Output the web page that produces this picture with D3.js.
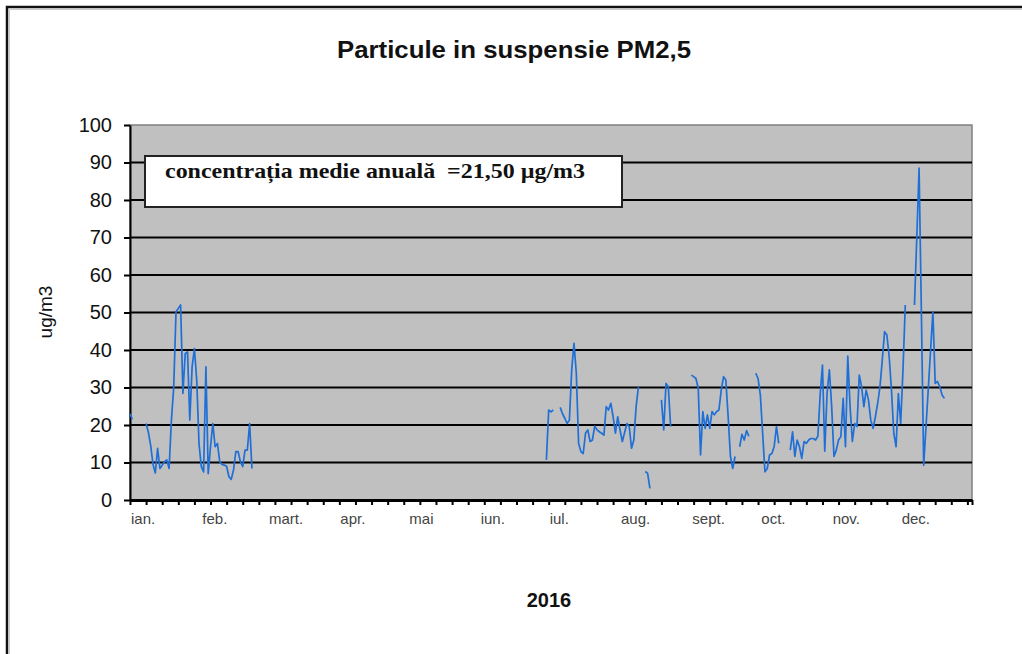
<!DOCTYPE html>
<html>
<head>
<meta charset="utf-8">
<script src="https://cdn.jsdelivr.net/npm/d3@7"></script>
<style>
body { margin: 0; background: #fff; }
svg { display: block; font-family: "Liberation Sans", Arial, sans-serif; }
</style>
</head>
<body>
<div id="chart"></div>
<script>
// chart values
var yTicks = [0, 10, 20, 30, 40, 50, 60, 70, 80, 90, 100];
var monthNames = ["ian.", "feb.", "mart.", "apr.", "mai", "iun.", "iul.", "aug.", "sept.", "oct.", "nov.", "dec."];

// daily values come in pieces, gaps = no measurement
var segStarts = ["2016-01-01", "2016-01-08", "2016-06-30", "2016-07-06", "2016-08-12",
                 "2016-08-19", "2016-09-01", "2016-09-22", "2016-09-29", "2016-10-14", "2016-12-07"];
var segValues = [
  [23, 21.5],
  [20.4, 18, 14.5, 9.5, 7.2, 13.8, 8.4, 9.3, 10.2, 10.7, 8.4, 21.3, 30, 50.2, 51.1, 52, 28.4, 39, 39.5, 21.3,
   35.5, 40.4, 32, 15, 8.9, 7.5, 35.5, 7, 14.2, 20.4, 14.2, 15.1, 10.2, 9.5, 9.3, 9.0, 6.2, 5.5, 8, 12.9,
   12.9, 10.2, 8.9, 13.3, 13.3, 20.4, 8.4],
  [10.7, 24, 23.5, 24],
  [24.7, 23, 21.8, 20.4, 21.3, 34.7, 41.8, 33.8, 15.1, 12.9, 12.4, 17.8, 18.7, 15.6, 16, 19.7, 18.7, 18.2,
   17.8, 17.3, 24.9, 24, 25.8, 22.2, 17.8, 22.2, 18.7, 15.6, 18, 20.4, 19.6, 13.8, 16, 24.9, 30.2],
  [7.6, 7.1, 3.1],
  [26.7, 18.7, 31.1, 30.2, 19.6],
  [33.3, 32.9, 32.4, 29.8, 12, 23.6, 19.1, 22.7, 19.1, 23.6, 22.7, 23.6, 24, 29.3, 32.9, 32, 22.2, 11.6, 8.4, 11.6],
  [14.2, 17.5, 16, 18.5, 17],
  [33.8, 32.4, 28, 17.8, 7.5, 8.4, 12, 12.4, 14.2, 19.6, 15.1],
  [13.3, 18.2, 11.6, 16, 14.2, 11.1, 15.6, 15.1, 16, 16.4, 16.4, 16, 17, 28, 36, 13, 28.4, 34.7, 24.9, 11.6,
   13.3, 16, 16.9, 27.1, 14.2, 38.4, 24.9, 15.6, 20.4, 19.6, 33.3, 30.2, 24.9, 29.3, 26.7, 21.3, 19.1, 22.2,
   25.8, 30.2, 37.3, 44.9, 44, 38.2, 29.3, 17.8, 14.2, 28.4, 20.4, 34.7, 52],
  [52, 70, 88.5, 50, 9.3, 19.5, 29.7, 40, 50.2, 31.1, 31.6, 30.2, 28, 27.1]
];

var svgW = 1022, svgH = 654;
var plotL = 130, plotT = 125, plotR = 972, plotB = 500;

var parseDay = d3.timeParse("%Y-%m-%d");
var yearStart = new Date(2016, 0, 1), yearEnd = new Date(2017, 0, 1);

var x = d3.scaleTime().domain([yearStart, yearEnd]).range([plotL, plotR]);
var y = d3.scaleLinear().domain([0, 100]).range([plotB, plotT]);

var svg = d3.select("#chart").append("svg").attr("width", svgW).attr("height", svgH);

// outer frame (only top and left visible)
svg.append("path").attr("d", "M7,654V7H1022").attr("fill", "none").attr("stroke", "#111").attr("stroke-width", 2.5);
svg.append("path").attr("d", "M9.5,654V9.5H1022").attr("fill", "none").attr("stroke", "#ccc").attr("stroke-width", 1);

svg.append("text").attr("x", 514).attr("y", 58).attr("text-anchor", "middle")
  .attr("font-size", 24).attr("font-weight", "bold").attr("fill", "#111")
  .attr("textLength", 354).attr("lengthAdjust", "spacingAndGlyphs")
  .text("Particule in suspensie PM2,5");

// plot background
svg.append("rect").attr("x", plotL).attr("y", plotT).attr("width", plotR - plotL).attr("height", plotB - plotT)
  .attr("fill", "#c0c0c0").attr("stroke", "#808080").attr("stroke-width", 1.5);

// gridlines
svg.append("g").selectAll("line")
  .data(yTicks.filter(d => d > 0 && d < 100))
  .enter().append("line")
  .attr("x1", plotL).attr("x2", plotR)
  .attr("y1", d => y(d)).attr("y2", d => y(d))
  .attr("stroke", "#000").attr("stroke-width", 2);

// y axis
var yAxis = svg.append("g").attr("transform", "translate(" + plotL + ",0)")
  .call(d3.axisLeft(y).tickValues(yTicks).tickSize(6).tickSizeOuter(0).tickPadding(12).tickFormat(d3.format("d")));
yAxis.select(".domain").attr("stroke", "#000").attr("stroke-width", 2);
yAxis.selectAll(".tick line").attr("stroke", "#000").attr("stroke-width", 2);
yAxis.selectAll(".tick text").attr("font-size", 20).attr("fill", "#111")
  .attr("font-family", "'Liberation Sans', Arial, sans-serif");

// x axis, weekly ticks
var xAxis = svg.append("g").attr("transform", "translate(0," + plotB + ")")
  .call(d3.axisBottom(x).tickValues(d3.timeDay.range(yearStart, yearEnd, 7).concat([yearEnd]))
    .tickSize(5).tickSizeOuter(0).tickFormat(""));
xAxis.select(".domain").attr("stroke", "#000").attr("stroke-width", 3);
xAxis.selectAll(".tick line").attr("stroke", "#000").attr("stroke-width", 2);

svg.append("g").selectAll("text")
  .data(d3.timeMonth.range(yearStart, yearEnd))
  .enter().append("text")
  .attr("x", d => x(d) + 1).attr("y", 524)
  .attr("font-size", 15).attr("fill", "#444")
  .text((d, i) => monthNames[i]);

// the series
var line = d3.line().x(d => x(d.date)).y(d => y(d.value));
var segments = segValues.map(function(vals, s) {
  var start = parseDay(segStarts[s]);
  return vals.map((v, i) => ({ date: d3.timeDay.offset(start, i), value: v }));
});
svg.append("g").selectAll("path")
  .data(segments)
  .enter().append("path")
  .attr("d", line)
  .attr("fill", "none").attr("stroke", "#1f6fd6").attr("stroke-width", 1.7)
  .attr("stroke-linejoin", "round");

// annual mean box
svg.append("rect").attr("x", 145).attr("y", 156).attr("width", 477).attr("height", 51)
  .attr("fill", "#fff").attr("stroke", "#222").attr("stroke-width", 2);
svg.append("text").attr("x", 165).attr("y", 178)
  .attr("font-family", "'Liberation Serif', 'Times New Roman', serif")
  .attr("font-size", 22).attr("font-weight", "bold").attr("fill", "#111")
  .attr("textLength", 420).attr("lengthAdjust", "spacingAndGlyphs")
  .style("white-space", "pre")
  .text("concentrația medie anuală  =21,50 µg/m3");

svg.append("text").attr("transform", "translate(52,312) rotate(-90)")
  .attr("text-anchor", "middle").attr("font-size", 19).attr("fill", "#111")
  .text("ug/m3");

svg.append("text").attr("x", 549).attr("y", 607).attr("text-anchor", "middle")
  .attr("font-size", 20).attr("font-weight", "bold").attr("fill", "#111")
  .text("2016");
</script>
</body>
</html>
